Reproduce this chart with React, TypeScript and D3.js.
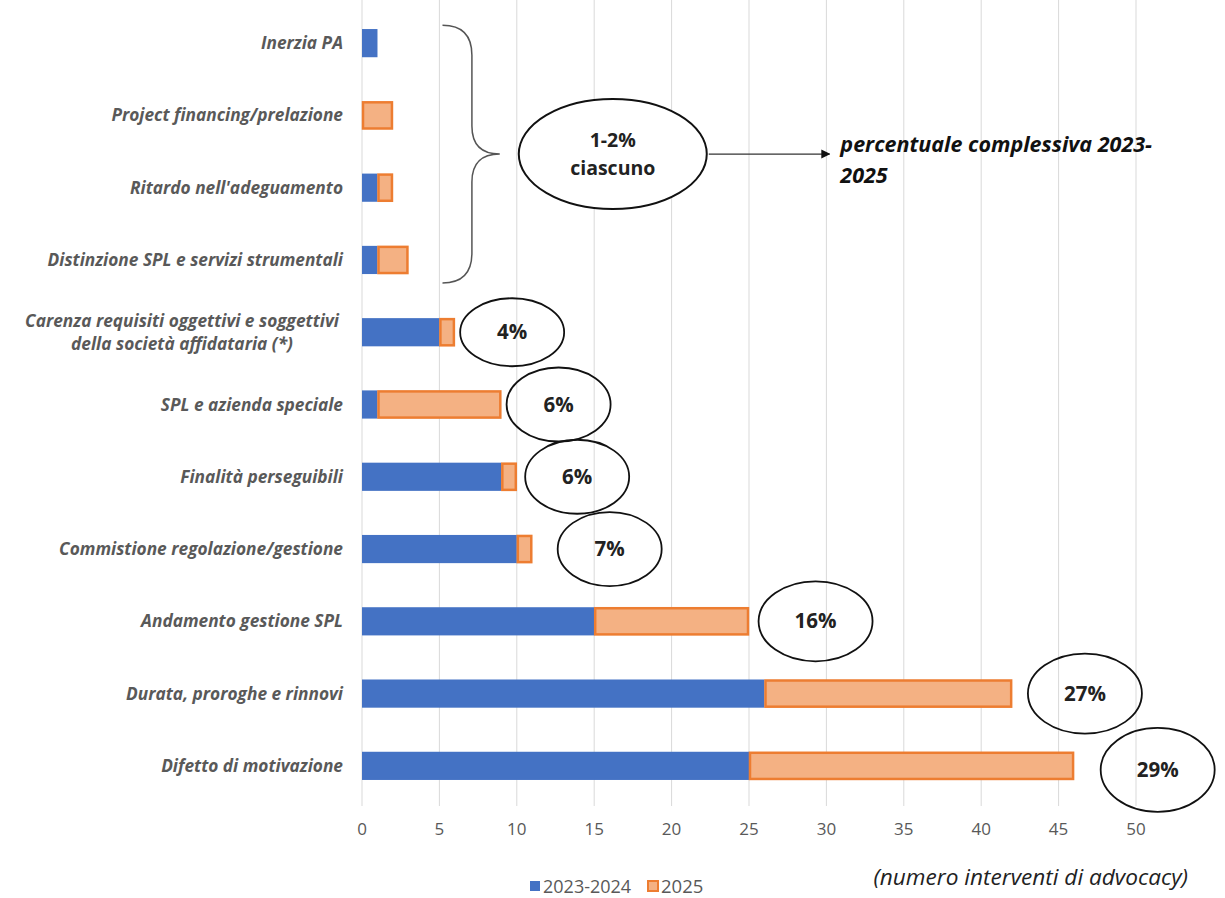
import React, { useEffect } from "react";
import * as d3 from "d3";

const categories = [
  "Inerzia PA",
  "Project financing/prelazione",
  "Ritardo nell'adeguamento",
  "Distinzione SPL e servizi strumentali",
  "Carenza requisiti oggettivi e soggettivi|della società affidataria (*)",
  "SPL e azienda speciale",
  "Finalità perseguibili",
  "Commistione regolazione/gestione",
  "Andamento gestione SPL",
  "Durata, proroghe e rinnovi",
  "Difetto di motivazione",
];
const values2324 = [1, 0, 1, 1, 5, 1, 9, 10, 15, 26, 25];
const values2025 = [0, 2, 1, 2, 1, 8, 1, 1, 10, 16, 21];
const xTicks = [0, 5, 10, 15, 20, 25, 30, 35, 40, 45, 50];
const seriesNames = ["2023-2024", "2025"];

// percentage annotations: category index, label, ellipse centre in data units
const annotIdx = [4, 5, 6, 7, 8, 9, 10];
const annotLabels = ["4%", "6%", "6%", "7%", "16%", "27%", "29%"];
const annotX = [9.7, 12.7, 13.9, 16.0, 29.3, 46.7, 51.4];

const W = 1225;
const H = 898;
const M = { left: 362, right: 1136, top: 7, bottom: 802 };
const BLUE = "#4472C4";
const ORANGE = "#ED7D31";
const ORANGE_FILL = "#F4B183";
const GREY = "#595959";
const FONT = "'Open Sans', 'Liberation Sans', sans-serif";

export default function App() {
  useEffect(() => {
    document.body.style.margin = "0";
  }, []);

  const x = d3.scaleLinear().domain([0, 50]).range([M.left, M.right]);
  const y = d3
    .scaleBand<string>()
    .domain(categories)
    .range([M.top, M.bottom])
    .paddingInner(0.61)
    .paddingOuter(0.305);
  const bw = y.bandwidth();
  const cy = (i: number) => (y(categories[i]) as number) + bw / 2;

  const braceTop = cy(0) - 18;
  const braceBot = cy(3) + 23;
  const braceMid = (braceTop + braceBot) / 2;
  const bx = x(5.2);
  const bv = x(7.1);
  const btip = x(8.9);

  const bigCx = x(16.2);
  const bigCy = braceMid;

  return (
    <svg width={W} height={H} style={{ display: "block", background: "#fff" }}>
      {/* gridlines */}
      {xTicks.map((t) => (
        <line
          key={"g" + t}
          x1={x(t)}
          x2={x(t)}
          y1={0}
          y2={M.bottom + 4}
          stroke="#D9D9D9"
          strokeWidth={1}
        />
      ))}
      {/* tick labels */}
      {xTicks.map((t) => (
        <text
          key={"t" + t}
          x={x(t)}
          y={835}
          textAnchor="middle"
          fontFamily={FONT}
          fontSize={17}
          fill={GREY}
        >
          {t}
        </text>
      ))}
      {/* bars */}
      {categories.map((c, i) => {
        const y0 = y(c) as number;
        const a = values2324[i];
        const b = values2025[i];
        return (
          <g key={"b" + i}>
            {a > 0 && (
              <rect x={x(0)} y={y0} width={x(a) - x(0)} height={bw} fill={BLUE} />
            )}
            {b > 0 && (
              <rect
                x={x(a) + 1}
                y={y0 + 1}
                width={x(a + b) - x(a) - 2}
                height={bw - 2}
                fill={ORANGE_FILL}
                stroke={ORANGE}
                strokeWidth={2.5}
              />
            )}
          </g>
        );
      })}
      {/* category labels */}
      {categories.map((c, i) => {
        const parts = c.split("|");
        if (parts.length === 1) {
          return (
            <text
              key={"l" + i}
              x={343}
              y={cy(i)}
              dy="0.35em"
              textAnchor="end"
              fontFamily={FONT}
              fontStyle="italic"
              fontWeight="bold"
              fontSize={17.3}
              fill={GREY}
            >
              {c}
            </text>
          );
        }
        return (
          <text
            key={"l" + i}
            x={182}
            y={cy(i)}
            textAnchor="middle"
            fontFamily={FONT}
            fontStyle="italic"
            fontWeight="bold"
            fontSize={17.3}
            fill={GREY}
          >
            {parts.map((p, k) => (
              <tspan key={k} x={182} dy={k === 0 ? "-0.3em" : "1.3em"}>
                {p}
              </tspan>
            ))}
          </text>
        );
      })}
      {/* brace */}
      <path
        d={`M${bx},${braceTop} Q${bv},${braceTop} ${bv},${braceTop + 30} L${bv},${braceMid - 28} Q${bv},${braceMid} ${btip},${braceMid} Q${bv},${braceMid} ${bv},${braceMid + 28} L${bv},${braceBot - 30} Q${bv},${braceBot} ${bx},${braceBot}`}
        fill="none"
        stroke="#555"
        strokeWidth={1.5}
      />
      {/* big ellipse */}
      <ellipse cx={bigCx} cy={bigCy} rx={94} ry={55} fill="#fff" stroke="#111" strokeWidth={2} />
      <text x={bigCx} y={bigCy - 7} textAnchor="middle" fontFamily={FONT} fontWeight="bold" fontSize={19.5} fill="#222">
        1-2%
      </text>
      <text x={bigCx} y={bigCy + 21} textAnchor="middle" fontFamily={FONT} fontWeight="bold" fontSize={19.5} fill="#222">
        ciascuno
      </text>
      {/* arrow */}
      <defs>
        <marker id="arr" viewBox="0 0 10 10" refX={9} refY={5} markerWidth={7} markerHeight={7} orient="auto">
          <path d="M0,0 L10,5 L0,10 Z" fill="#111" />
        </marker>
      </defs>
      <line
        x1={bigCx + 96}
        x2={x(30.2)}
        y1={bigCy}
        y2={bigCy}
        stroke="#333"
        strokeWidth={1.3}
        markerEnd="url(#arr)"
      />
      <text x={x(30.9)} y={bigCy - 2} fontFamily={FONT} fontWeight="bold" fontStyle="italic" fontSize={21.5} fill="#111">
        percentuale complessiva 2023-
      </text>
      <text x={x(30.9)} y={bigCy + 29} fontFamily={FONT} fontWeight="bold" fontStyle="italic" fontSize={21.5} fill="#111">
        2025
      </text>
      {/* percentage ellipses */}
      {annotIdx.map((ci, k) => {
        const big = k >= 4;
        const ecx = x(annotX[k]);
        const ecy = cy(ci) + (k === 6 ? 4 : 0);
        const rx = big ? 57 : 52;
        const ry = big ? (k === 6 ? 42 : 40) : k === 0 ? 34 : 37;
        return (
          <g key={"a" + k}>
            <ellipse cx={ecx} cy={ecy} rx={rx} ry={ry} fill="#fff" fillOpacity={0} stroke="#111" strokeWidth={1.8} />
            <text
              x={ecx}
              y={ecy}
              dy="0.35em"
              textAnchor="middle"
              fontFamily={FONT}
              fontWeight="bold"
              fontSize={20.5}
              fill="#222"
            >
              {annotLabels[k]}
            </text>
          </g>
        );
      })}
      {/* axis title */}
      <text x={1188} y={885} textAnchor="end" fontFamily={FONT} fontStyle="italic" fontSize={22.6} fill="#222">
        (numero interventi di advocacy)
      </text>
      {/* legend */}
      <rect x={530} y={881} width={10} height={10} fill={BLUE} />
      <text x={543} y={893} fontFamily={FONT} fontSize={18} fill={GREY}>
        {seriesNames[0]}
      </text>
      <rect x={648} y={881} width={10} height={10} fill={ORANGE_FILL} stroke={ORANGE} strokeWidth={2} />
      <text x={661} y={893} fontFamily={FONT} fontSize={18.5} fill={GREY}>
        {seriesNames[1]}
      </text>
    </svg>
  );
}
